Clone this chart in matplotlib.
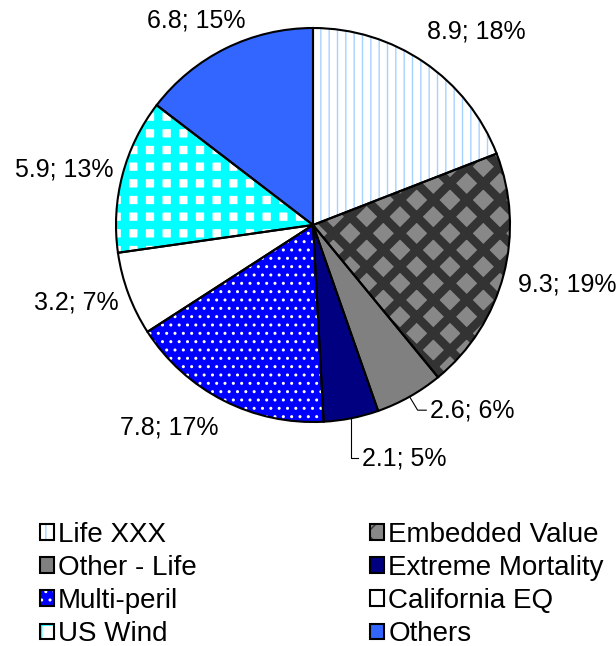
import matplotlib
matplotlib.use("Agg")
import matplotlib.pyplot as plt
import numpy as np

plt.rcParams["font.family"] = ["Liberation Sans", "DejaVu Sans"]

# data
categories = ["Life XXX", "Embedded Value", "Other - Life", "Extreme Mortality",
              "Multi-peril", "California EQ", "US Wind", "Others"]
values = [8.9, 9.3, 2.6, 2.1, 7.8, 3.2, 5.9, 6.8]
percents = [18, 19, 6, 5, 17, 7, 13, 15]

# styling per slice: face, hatch, hatch colour, hatch width (pt)
faces = ["white", "#888888", "#808080", "#000080",
         "#0000ff", "white", "white", "#3366ff"]
hatches = ["||", "x", None, None, "..", None, "+", None]
hatch_cols = ["#a6d2ff", "#333333", "#808080", "#000080",
              "white", "white", "#00ffff", "#3366ff"]
hatch_lw = [1.0, 6.2, 1.0, 1.0, 1.0, 1.0, 6.0, 1.0]

# label placement (axes data units, pie radius = 1)
label_pos = [(0.58, 0.98), (1.04, -0.30), (0.595, -0.94), (0.25, -1.185),
             (-0.48, -1.03), (-0.985, -0.395), (-1.015, 0.28), (-0.345, 1.04)]
label_ha = ["left", "left", "left", "left", "right", "right", "right", "right"]
leader_slices = [2, 3]

fig = plt.figure(figsize=(6.16, 6.46), dpi=100)
ax = fig.add_axes([116 / 616, 224 / 646, 394 / 616, 394 / 646])

fills, _ = ax.pie(values, startangle=90, counterclock=False, radius=1.0,
                  colors=faces, wedgeprops=dict(linewidth=0))
for w, h, hc, lw in zip(fills, hatches, hatch_cols, hatch_lw):
    w.set_edgecolor(hc)
    w.set_linewidth(0)
    if h:
        w.set_hatch(h)
        if hasattr(w, "set_hatch_linewidth"):
            w.set_hatch_linewidth(lw)

outlines, _ = ax.pie(values, startangle=90, counterclock=False, radius=1.0,
                     wedgeprops=dict(fill=False, edgecolor="black", linewidth=1.5))

for i, w in enumerate(outlines):
    txt = f"{values[i]}; {percents[i]}%"
    tx, ty = label_pos[i]
    if i in leader_slices:
        a = np.deg2rad((w.theta1 + w.theta2) / 2)
        ex, ey = np.cos(a), np.sin(a)
        kx = ex - (ty - ey) * 0.6 if i == 2 else ex
        ax.plot([ex, kx, tx - 0.02], [ey, ty, ty],
                color="black", lw=0.8, clip_on=False)
    ax.text(tx, ty, txt, ha=label_ha[i], va="center", fontsize=18)

ax.set_xlim(-1, 1)
ax.set_ylim(-1, 1)
ax.set_aspect("equal")
ax.axis("off")

order = [0, 2, 4, 6, 1, 3, 5, 7]
handles = [(fills[i], outlines[i]) for i in order]
labels = [categories[i] for i in order]
fig.legend(handles, labels, ncol=2, loc="upper left",
           bbox_to_anchor=(0.042, 0.214), frameon=False, fontsize=20,
           handlelength=0.5, handleheight=0.5, handletextpad=0.15,
           labelspacing=0.26, columnspacing=6.25, borderpad=0)

fig.savefig("out.png", dpi=100)
